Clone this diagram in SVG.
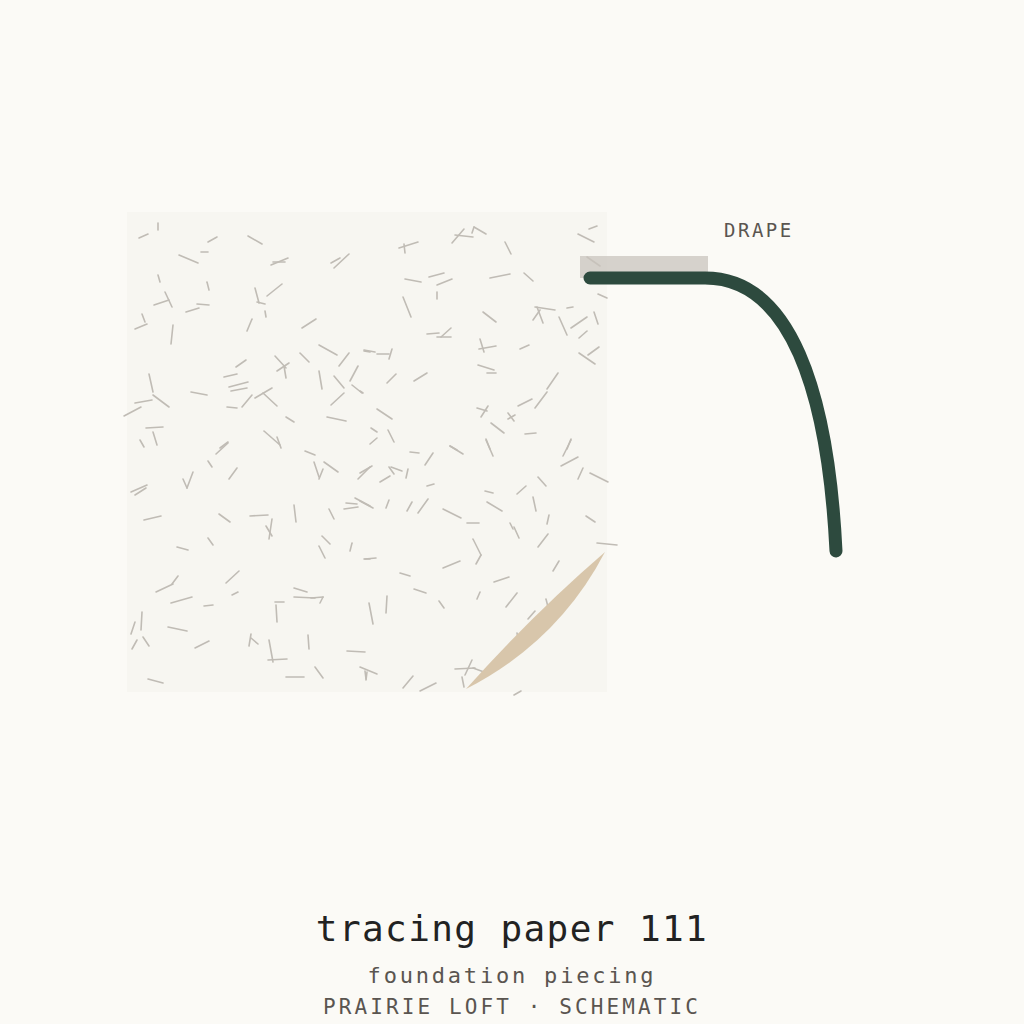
<svg xmlns="http://www.w3.org/2000/svg" width="1024" height="1024" viewBox="0 0 1024 1024">
<style>
.bg{fill:#fbfaf6}
.paper{fill:#f7f6f1}
.fib line{stroke:#c0bcb5;stroke-width:1.6;stroke-linecap:round}
.mono{font-family:"DejaVu Sans Mono","Liberation Mono",monospace}
</style>
<rect class="bg" x="0" y="0" width="1024" height="1024"/>
<g id="paper">
<rect class="paper" x="127" y="212" width="480" height="480"/>
<g class="fib">
<line x1="139" y1="238" x2="148" y2="234"/><line x1="158" y1="223" x2="158" y2="230"/><line x1="208" y1="242" x2="217" y2="237"/><line x1="248" y1="236" x2="262" y2="244"/><line x1="179" y1="255" x2="198" y2="263"/><line x1="201" y1="252" x2="208" y2="252"/><line x1="271" y1="265" x2="288" y2="258"/><line x1="273" y1="262" x2="285" y2="262"/><line x1="331" y1="263" x2="340" y2="258"/><line x1="334" y1="268" x2="349" y2="254"/><line x1="158" y1="275" x2="160" y2="282"/><line x1="207" y1="282" x2="209" y2="290"/><line x1="165" y1="292" x2="172" y2="307"/><line x1="154" y1="305" x2="169" y2="300"/><line x1="186" y1="312" x2="199" y2="308"/><line x1="197" y1="304" x2="209" y2="305"/><line x1="255" y1="288" x2="259" y2="303"/><line x1="257" y1="302" x2="265" y2="304"/><line x1="267" y1="296" x2="282" y2="284"/><line x1="265" y1="311" x2="266" y2="317"/><line x1="142" y1="314" x2="145" y2="322"/><line x1="135" y1="329" x2="147" y2="324"/><line x1="173" y1="325" x2="171" y2="344"/><line x1="247" y1="331" x2="252" y2="319"/><line x1="302" y1="328" x2="316" y2="319"/><line x1="319" y1="345" x2="337" y2="355"/><line x1="300" y1="353" x2="309" y2="362"/><line x1="339" y1="366" x2="349" y2="353"/><line x1="364" y1="351" x2="370" y2="352"/><line x1="236" y1="367" x2="246" y2="360"/><line x1="275" y1="356" x2="286" y2="368"/><line x1="277" y1="371" x2="289" y2="363"/><line x1="284" y1="366" x2="286" y2="378"/><line x1="319" y1="371" x2="322" y2="389"/><line x1="334" y1="376" x2="344" y2="388"/><line x1="350" y1="381" x2="358" y2="366"/><line x1="352" y1="385" x2="362" y2="393"/><line x1="224" y1="377" x2="237" y2="374"/><line x1="229" y1="387" x2="248" y2="382"/><line x1="231" y1="391" x2="247" y2="388"/><line x1="149" y1="374" x2="153" y2="392"/><line x1="153" y1="395" x2="169" y2="407"/><line x1="135" y1="403" x2="152" y2="400"/><line x1="124" y1="416" x2="141" y2="407"/><line x1="191" y1="392" x2="207" y2="395"/><line x1="255" y1="398" x2="272" y2="388"/><line x1="263" y1="393" x2="277" y2="406"/><line x1="227" y1="407" x2="237" y2="408"/><line x1="242" y1="407" x2="252" y2="395"/><line x1="331" y1="405" x2="344" y2="393"/><line x1="327" y1="417" x2="346" y2="421"/><line x1="286" y1="417" x2="294" y2="422"/><line x1="146" y1="428" x2="163" y2="427"/><line x1="153" y1="432" x2="157" y2="445"/><line x1="140" y1="440" x2="144" y2="447"/><line x1="220" y1="448" x2="228" y2="442"/><line x1="264" y1="431" x2="280" y2="445"/><line x1="277" y1="437" x2="281" y2="448"/>
<line x1="399" y1="248" x2="418" y2="242"/><line x1="404" y1="244" x2="405" y2="253"/><line x1="452" y1="243" x2="464" y2="229"/><line x1="455" y1="235" x2="473" y2="237"/><line x1="472" y1="233" x2="474" y2="227"/><line x1="474" y1="227" x2="486" y2="234"/><line x1="505" y1="242" x2="511" y2="254"/><line x1="578" y1="234" x2="594" y2="242"/><line x1="589" y1="229" x2="597" y2="226"/><line x1="405" y1="279" x2="421" y2="282"/><line x1="429" y1="277" x2="444" y2="273"/><line x1="437" y1="285" x2="452" y2="279"/><line x1="437" y1="292" x2="437" y2="299"/><line x1="490" y1="278" x2="510" y2="274"/><line x1="524" y1="273" x2="533" y2="281"/><line x1="403" y1="297" x2="411" y2="317"/><line x1="483" y1="312" x2="496" y2="322"/><line x1="535" y1="307" x2="555" y2="310"/><line x1="537" y1="307" x2="543" y2="323"/><line x1="540" y1="310" x2="533" y2="320"/><line x1="567" y1="308" x2="573" y2="307"/><line x1="559" y1="317" x2="567" y2="335"/><line x1="571" y1="328" x2="587" y2="317"/><line x1="594" y1="312" x2="598" y2="324"/><line x1="598" y1="294" x2="607" y2="298"/><line x1="579" y1="338" x2="587" y2="331"/><line x1="579" y1="353" x2="595" y2="364"/><line x1="588" y1="355" x2="599" y2="347"/><line x1="427" y1="334" x2="439" y2="333"/><line x1="437" y1="337" x2="451" y2="337"/><line x1="441" y1="337" x2="451" y2="328"/><line x1="364" y1="350" x2="375" y2="352"/><line x1="377" y1="354" x2="389" y2="354"/><line x1="389" y1="359" x2="392" y2="349"/><line x1="480" y1="339" x2="484" y2="352"/><line x1="479" y1="349" x2="496" y2="346"/><line x1="520" y1="349" x2="529" y2="345"/><line x1="478" y1="365" x2="494" y2="370"/><line x1="487" y1="373" x2="496" y2="373"/><line x1="387" y1="383" x2="396" y2="374"/><line x1="414" y1="381" x2="427" y2="373"/><line x1="547" y1="389" x2="558" y2="373"/><line x1="535" y1="408" x2="547" y2="392"/><line x1="518" y1="406" x2="532" y2="399"/><line x1="477" y1="408" x2="487" y2="411"/><line x1="481" y1="417" x2="488" y2="406"/><line x1="508" y1="413" x2="514" y2="421"/><line x1="508" y1="419" x2="515" y2="415"/><line x1="491" y1="423" x2="504" y2="433"/><line x1="525" y1="434" x2="536" y2="433"/><line x1="377" y1="409" x2="392" y2="419"/><line x1="371" y1="428" x2="377" y2="432"/><line x1="388" y1="430" x2="394" y2="442"/><line x1="370" y1="444" x2="377" y2="438"/><line x1="360" y1="391" x2="363" y2="393"/><line x1="450" y1="446" x2="457" y2="450"/><line x1="486" y1="439" x2="490" y2="449"/><line x1="567" y1="449" x2="571" y2="439"/>
<line x1="216" y1="454" x2="228" y2="443"/><line x1="305" y1="451" x2="315" y2="455"/><line x1="314" y1="462" x2="319" y2="477"/><line x1="319" y1="479" x2="323" y2="469"/><line x1="324" y1="462" x2="338" y2="472"/><line x1="358" y1="479" x2="370" y2="467"/><line x1="208" y1="461" x2="212" y2="467"/><line x1="229" y1="479" x2="237" y2="468"/><line x1="183" y1="479" x2="187" y2="488"/><line x1="187" y1="488" x2="193" y2="472"/><line x1="131" y1="492" x2="147" y2="485"/><line x1="135" y1="495" x2="146" y2="488"/><line x1="144" y1="520" x2="161" y2="516"/><line x1="219" y1="514" x2="230" y2="522"/><line x1="250" y1="516" x2="268" y2="515"/><line x1="266" y1="526" x2="272" y2="536"/><line x1="272" y1="519" x2="269" y2="539"/><line x1="294" y1="505" x2="296" y2="522"/><line x1="329" y1="509" x2="334" y2="519"/><line x1="344" y1="509" x2="358" y2="507"/><line x1="346" y1="503" x2="357" y2="504"/><line x1="355" y1="498" x2="370" y2="506"/><line x1="177" y1="547" x2="188" y2="550"/><line x1="208" y1="538" x2="213" y2="545"/><line x1="322" y1="536" x2="330" y2="544"/><line x1="319" y1="546" x2="325" y2="558"/><line x1="350" y1="551" x2="352" y2="543"/><line x1="364" y1="559" x2="370" y2="559"/><line x1="156" y1="592" x2="173" y2="584"/><line x1="172" y1="584" x2="178" y2="576"/><line x1="171" y1="603" x2="192" y2="597"/><line x1="226" y1="583" x2="239" y2="571"/><line x1="232" y1="595" x2="238" y2="592"/><line x1="204" y1="606" x2="213" y2="605"/><line x1="294" y1="588" x2="307" y2="592"/><line x1="294" y1="597" x2="315" y2="598"/><line x1="311" y1="598" x2="323" y2="597"/><line x1="320" y1="603" x2="323" y2="597"/><line x1="275" y1="602" x2="284" y2="602"/><line x1="276" y1="605" x2="277" y2="622"/><line x1="142" y1="612" x2="141" y2="630"/><line x1="131" y1="634" x2="135" y2="622"/><line x1="132" y1="649" x2="137" y2="640"/><line x1="143" y1="637" x2="149" y2="646"/><line x1="168" y1="627" x2="187" y2="631"/><line x1="195" y1="648" x2="209" y2="641"/><line x1="249" y1="646" x2="251" y2="634"/><line x1="251" y1="638" x2="258" y2="644"/><line x1="269" y1="640" x2="273" y2="662"/><line x1="268" y1="660" x2="287" y2="659"/><line x1="308" y1="635" x2="309" y2="649"/><line x1="347" y1="651" x2="365" y2="652"/><line x1="366" y1="680" x2="367" y2="672"/><line x1="148" y1="679" x2="163" y2="683"/><line x1="286" y1="677" x2="304" y2="677"/><line x1="315" y1="667" x2="323" y2="678"/>
<line x1="410" y1="452" x2="419" y2="453"/><line x1="425" y1="465" x2="433" y2="453"/><line x1="450" y1="446" x2="463" y2="454"/><line x1="486" y1="440" x2="493" y2="456"/><line x1="563" y1="456" x2="571" y2="440"/><line x1="561" y1="466" x2="578" y2="457"/><line x1="578" y1="479" x2="583" y2="468"/><line x1="590" y1="473" x2="608" y2="482"/><line x1="360" y1="473" x2="372" y2="466"/><line x1="380" y1="482" x2="390" y2="476"/><line x1="389" y1="467" x2="394" y2="474"/><line x1="391" y1="467" x2="402" y2="471"/><line x1="406" y1="478" x2="408" y2="469"/><line x1="427" y1="486" x2="434" y2="484"/><line x1="360" y1="501" x2="373" y2="508"/><line x1="386" y1="508" x2="389" y2="500"/><line x1="407" y1="511" x2="412" y2="502"/><line x1="418" y1="513" x2="428" y2="499"/><line x1="443" y1="509" x2="461" y2="518"/><line x1="467" y1="523" x2="479" y2="523"/><line x1="485" y1="491" x2="493" y2="493"/><line x1="487" y1="502" x2="502" y2="511"/><line x1="517" y1="494" x2="526" y2="486"/><line x1="538" y1="477" x2="546" y2="486"/><line x1="533" y1="497" x2="536" y2="511"/><line x1="510" y1="523" x2="513" y2="529"/><line x1="514" y1="527" x2="519" y2="538"/><line x1="549" y1="515" x2="547" y2="524"/><line x1="586" y1="516" x2="595" y2="522"/><line x1="538" y1="547" x2="548" y2="534"/><line x1="473" y1="539" x2="481" y2="555"/><line x1="481" y1="555" x2="476" y2="564"/><line x1="597" y1="543" x2="617" y2="545"/><line x1="365" y1="559" x2="376" y2="558"/><line x1="443" y1="568" x2="460" y2="561"/><line x1="400" y1="573" x2="410" y2="576"/><line x1="494" y1="582" x2="509" y2="577"/><line x1="553" y1="571" x2="559" y2="561"/><line x1="414" y1="589" x2="426" y2="593"/><line x1="477" y1="599" x2="480" y2="592"/><line x1="439" y1="601" x2="444" y2="608"/><line x1="506" y1="607" x2="517" y2="593"/><line x1="369" y1="603" x2="373" y2="624"/><line x1="387" y1="596" x2="386" y2="613"/><line x1="528" y1="619" x2="535" y2="611"/><line x1="546" y1="599" x2="548" y2="607"/><line x1="517" y1="633" x2="518" y2="638"/><line x1="360" y1="667" x2="377" y2="674"/><line x1="365" y1="671" x2="366" y2="679"/><line x1="403" y1="688" x2="413" y2="676"/><line x1="420" y1="691" x2="436" y2="683"/><line x1="455" y1="669" x2="475" y2="668"/><line x1="465" y1="675" x2="472" y2="660"/><line x1="462" y1="677" x2="464" y2="687"/><line x1="473" y1="668" x2="484" y2="672"/><line x1="514" y1="695" x2="521" y2="691"/>
<line x1="587" y1="257" x2="600" y2="266"/>
</g>
</g>
<g id="crease">
<path d="M466 689 Q533 614 605 552 Q558 642 466 689 Z" fill="#d8c6ab"/>
</g>
<g id="drape">
<rect x="580" y="256" width="128" height="22" fill="#c9c4bd" fill-opacity="0.75"/>
<path d="M590 278 L705 278 C790 278 828 390 836 551" fill="none" stroke="#2d4a3e" stroke-width="13" stroke-linecap="round" stroke-linejoin="round"/>
<text class="mono" x="724" y="237" font-size="19" letter-spacing="2.5" fill="#5a5550">DRAPE</text>
</g>
<g id="titles">
<text class="mono" x="512" y="941" font-size="36" letter-spacing="1.4" fill="#222222" text-anchor="middle">tracing paper 111</text>
<text class="mono" x="512" y="983" font-size="22" letter-spacing="2.8" fill="#5a5550" text-anchor="middle">foundation piecing</text>
<text class="mono" x="512" y="1014" font-size="21" letter-spacing="3.1" fill="#5a5550" text-anchor="middle">PRAIRIE LOFT · SCHEMATIC</text>
</g>
</svg>
